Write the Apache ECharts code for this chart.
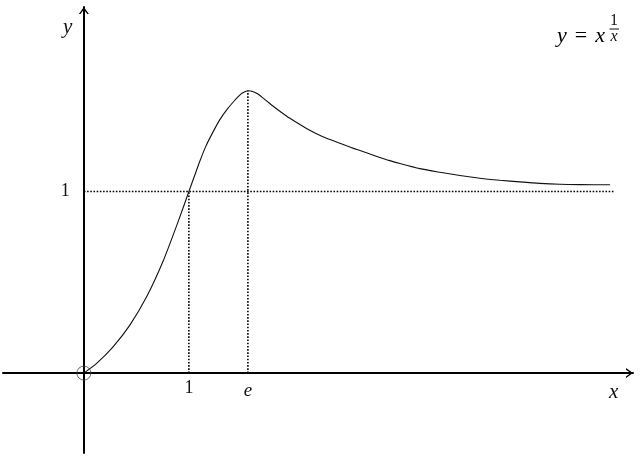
<!DOCTYPE html>
<html>
<head>
<meta charset="utf-8">
<script src="https://cdn.jsdelivr.net/npm/echarts@6/dist/echarts.min.js"></script>
<style>
html,body{margin:0;padding:0;background:#fff;}
#c{width:640px;height:462px;}
</style>
</head>
<body>
<div id="c"></div>
<script>
// Diagram units: x = 1 at the "1" tick, y = 1 at the "1" tick (schematic, not to scale)
const curveX = [0, 0.124, 0.276, 0.438, 0.600, 0.752, 0.895, 1.000, 1.048, 1.105, 1.162, 1.229, 1.295, 1.362, 1.429, 1.495, 1.533, 1.562, 1.590, 1.619, 1.657, 1.695, 1.743, 1.800, 1.876, 1.962, 2.124, 2.276, 2.438, 2.600, 2.752, 2.914, 3.010, 3.200, 3.390, 3.581, 3.771, 3.962, 4.152, 4.343, 4.533, 4.724, 5.010];
const curveY = [0, 0.055, 0.143, 0.264, 0.423, 0.613, 0.830, 1.000, 1.077, 1.168, 1.250, 1.327, 1.396, 1.451, 1.497, 1.536, 1.549, 1.555, 1.553, 1.548, 1.537, 1.520, 1.498, 1.471, 1.438, 1.403, 1.346, 1.302, 1.266, 1.231, 1.201, 1.170, 1.154, 1.126, 1.106, 1.088, 1.073, 1.062, 1.053, 1.045, 1.040, 1.038, 1.037];

const xTickValues = [1, 1.562];
const xTickLabels = ['1', 'e'];
const yTickValues = [1];
const yTickLabels = ['1'];

const peakX = 1.562;
const peakY = 1.555;
const guideEndX = 5.057;

const xRange = [-0.77, 5.229];
const yRange = [-0.44, 2.016];

const originPoint = [[0, 0]];
const hGuide = [[0, 1], [guideEndX, 1]];
const vGuide1 = [[1, 0], [1, 1]];
const vGuideE = [[peakX, 0], [peakX, peakY]];

const curve = curveX.map((x, i) => [x, curveY[i]]);

const W = 640, H = 462;
const G = {left: 3, right: 7, top: 7, bottom: 9};
const gridW = W - G.left - G.right, gridH = H - G.top - G.bottom;
// move the axes onto the zero lines of each other (labels follow)
const xAxisOffset = -gridH * (0 - yRange[0]) / (yRange[1] - yRange[0]);
const yAxisOffset = -gridW * (0 - xRange[0]) / (xRange[1] - xRange[0]);

const chevron = 'path://M0,7 L5,0 L10,7 L8.4,7 L5,2.4 L1.6,7 Z';
const serif = "'Liberation Serif', 'DejaVu Serif', serif";

function findLabel(values, labels, v) {
  for (let i = 0; i < values.length; i++) {
    if (Math.abs(values[i] - v) < 1e-6) return labels[i];
  }
  return '';
}

const chart = echarts.init(document.getElementById('c'), null, {renderer: 'canvas'});
const dotted = {color: '#000', width: 1.6, type: [1.6, 1.6]};

chart.setOption({
  animation: false,
  backgroundColor: '#fff',
  grid: {left: G.left, right: G.right, top: G.top, bottom: G.bottom, containLabel: false, outerBoundsMode: 'none'},
  xAxis: {
    type: 'value', min: xRange[0], max: xRange[1], position: 'bottom', offset: xAxisOffset,
    splitLine: {show: false}, axisTick: {show: false},
    axisLine: {onZero: false, lineStyle: {color: '#000', width: 2}, symbol: ['none', chevron], symbolSize: [10, 7], symbolOffset: [0, -3.5]},
    axisLabel: {
      customValues: xTickValues, margin: 6, color: '#111', fontSize: 18, fontFamily: serif,
      formatter: v => { const t = findLabel(xTickValues, xTickLabels, v); return t === 'e' ? '{i|e}' : t; },
      rich: {i: {fontStyle: 'italic', fontSize: 19, fontFamily: serif, color: '#111', padding: [2, 0, 0, 0]}}
    }
  },
  yAxis: {
    type: 'value', min: yRange[0], max: yRange[1], position: 'left', offset: yAxisOffset,
    splitLine: {show: false}, axisTick: {show: false},
    axisLine: {onZero: false, lineStyle: {color: '#000', width: 2}, symbol: ['none', chevron], symbolSize: [10, 7], symbolOffset: [0, -3.5]},
    axisLabel: {
      customValues: yTickValues, margin: 14, color: '#111', fontSize: 18, fontFamily: serif,
      formatter: v => findLabel(yTickValues, yTickLabels, v)
    }
  },
  series: [
    {type: 'line', data: hGuide, symbol: 'none', lineStyle: dotted, silent: true},
    {type: 'line', data: vGuide1, symbol: 'none', lineStyle: dotted, silent: true},
    {type: 'line', data: vGuideE, symbol: 'none', lineStyle: dotted, silent: true},
    {type: 'line', data: curve, symbol: 'none', smooth: 0.25, lineStyle: {color: '#111', width: 1.1}, silent: true, z: 5},
    {type: 'scatter', data: originPoint, symbol: 'circle', symbolSize: 14,
     itemStyle: {color: 'rgba(0,0,0,0)', borderColor: '#444', borderWidth: 1}, silent: true, z: 6}
  ],
  graphic: [
    {type: 'text', left: 63, top: 17, style: {text: 'y', font: 'italic 21px ' + serif, fill: '#111'}},
    {type: 'text', left: 609, top: 382, style: {text: 'x', font: 'italic 21px ' + serif, fill: '#111'}},
    {type: 'text', x: 557, y: 36, style: {
      text: '{i|y}{eq|=}{i|x}', verticalAlign: 'middle', align: 'left',
      rich: {
        i: {fontStyle: 'italic', fontSize: 22, fontFamily: serif, color: '#111'},
        eq: {fontSize: 22, fontFamily: serif, color: '#111', padding: [0, 8, 0, 8]}
      }
    }},
    {type: 'text', x: 614, y: 21, style: {text: '1', font: '16px ' + serif, fill: '#111', align: 'center', verticalAlign: 'middle'}},
    {type: 'line', shape: {x1: 609.5, y1: 29, x2: 619, y2: 29}, style: {stroke: '#111', lineWidth: 1}},
    {type: 'text', x: 614, y: 36.5, style: {text: 'x', font: 'italic 16px ' + serif, fill: '#111', align: 'center', verticalAlign: 'middle'}}
  ]
});
</script>
</body>
</html>
